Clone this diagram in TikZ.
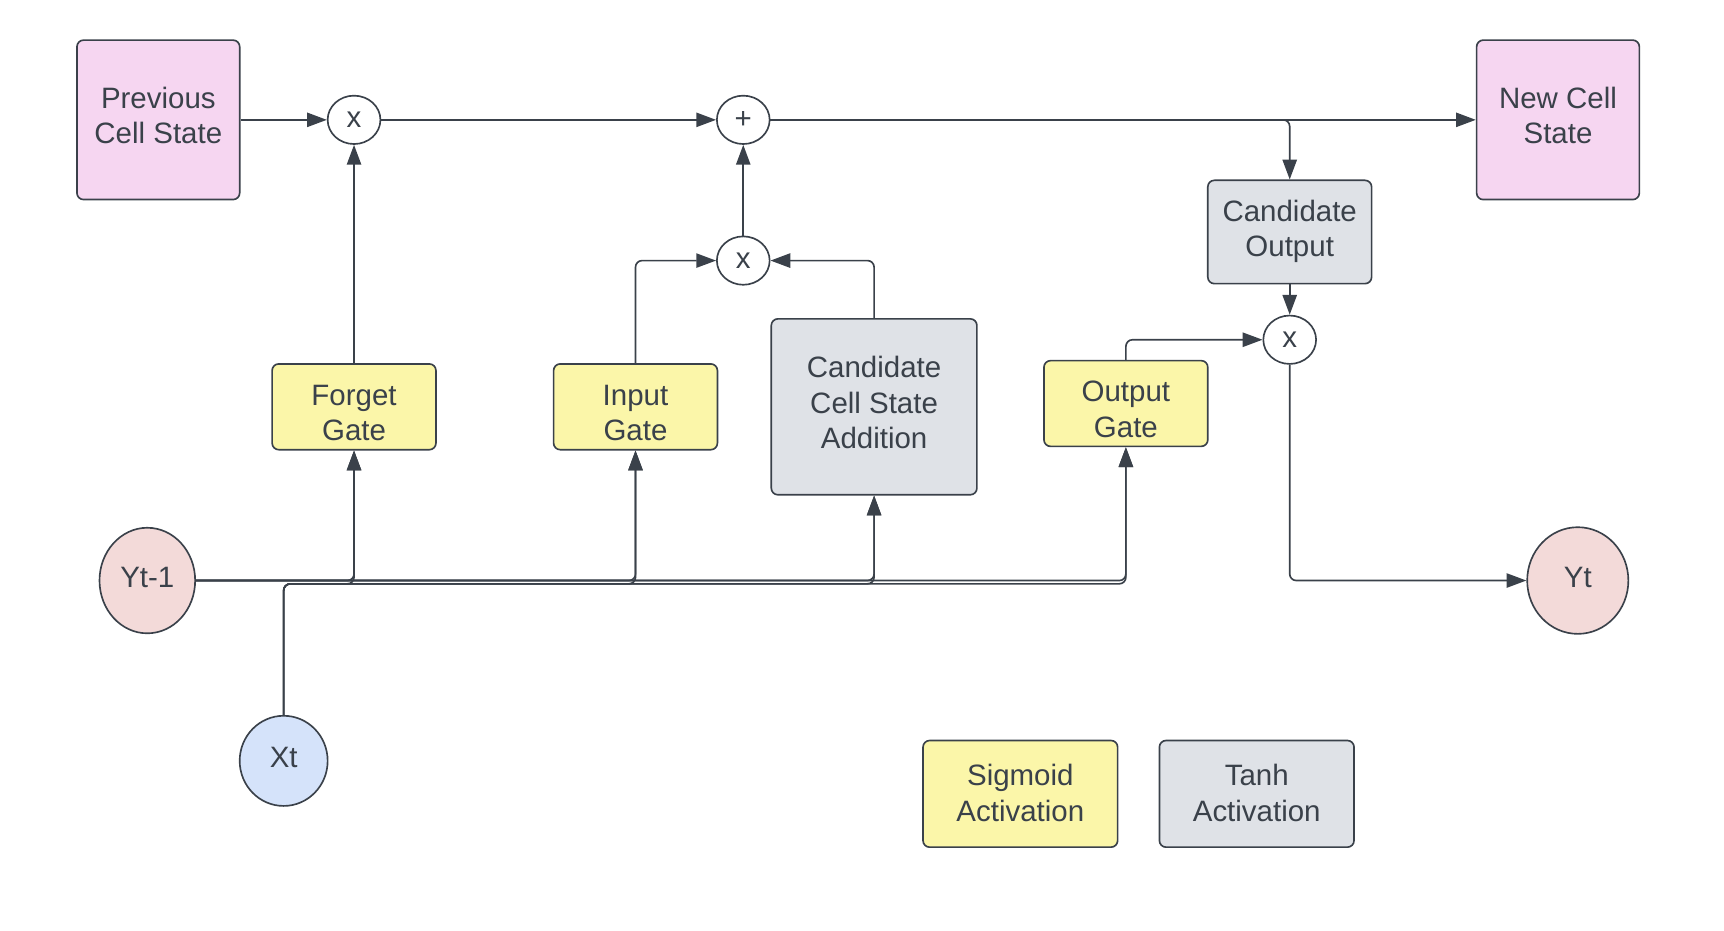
\documentclass[tikz,border=0pt]{standalone}
\usepackage{tikz}
\usepackage{xcolor}
\usepackage{fontspec}
\setmainfont{Liberation Sans}
\usetikzlibrary{arrows.meta,shapes.geometric}
\definecolor{lline}{HTML}{3A414A}
\definecolor{lpink}{HTML}{F6D6F1}
\definecolor{lyellow}{HTML}{FBF6A9}
\definecolor{lgrey}{HTML}{DFE2E7}
\definecolor{lrose}{HTML}{F3DAD9}
\definecolor{lblue}{HTML}{D5E3FA}

\begin{document}
\begin{tikzpicture}[x=0.5pt,y=-0.5pt,line width=0.75pt,every node/.style={align=center,text=lline,font=\fontsize{13.4}{16}\selectfont},box/.style={draw=lline,rounded corners=3pt,inner sep=0pt,text depth=4pt},gate/.style={box,fill=lyellow,minimum width=74.5pt,minimum height=39pt,text depth=0pt,text height=30.5pt},legendbox/.style={box,minimum width=88.5pt,minimum height=48.5pt,text depth=1pt},term/.style={draw=lline,ellipse,inner sep=0pt,text depth=3pt},op/.style={draw=lline,ellipse,fill=white,minimum width=24pt,minimum height=22pt,inner sep=0pt},arr/.style={draw=lline,-{Triangle[length=9pt,width=6.5pt]},rounded corners=3pt}]

\useasboundingbox (0,0) rectangle (1568,846);

% cell state
\node[box,fill=lpink,minimum width=74pt,minimum height=72.5pt] (prev) at (144,109) {Previous\\Cell State};
\node[op] (mul1) at (322,109) {x};
\node[op] (add) at (676,109) {+};
\node[box,fill=lpink,minimum width=74pt,minimum height=72.5pt] (new) at (1417,109) {New Cell\\State};

% gates
\node[gate] (forget) at (322,370) {Forget\\Gate};
\node[gate] (input) at (578,370) {Input\\Gate};
\node[op] (mul2) at (676,237) {x};
\node[box,fill=lgrey,minimum width=93.5pt,minimum height=80pt] (ccs) at (795,370) {Candidate\\Cell State\\Addition};
\node[gate] (og) at (1024,367) {Output\\Gate};
\node[box,fill=lgrey,minimum width=74.5pt,minimum height=47pt,text depth=3pt] (co) at (1173,211) {Candidate\\Output};
\node[op] (mul3) at (1173,309) {x};

% inputs and output
\node[term,fill=lrose,minimum width=43.5pt,minimum height=48pt] (yt1) at (134,528) {Yt-1};
\node[term,fill=lblue,minimum width=40pt,minimum height=41pt] (xt) at (258,692) {Xt};
\node[term,fill=lrose,minimum width=46pt,minimum height=48.5pt] (yt) at (1435,528) {Yt};
\coordinate (xbus) at (258,531);

% legend
\node[legendbox,fill=lyellow] (sig) at (928,722) {Sigmoid\\Activation};
\node[legendbox,fill=lgrey] (tanh) at (1143,722) {Tanh\\Activation};

% <- end nodes
\draw[arr] (prev) -- (mul1);
\draw[arr] (mul1) -- (add);
\draw[arr] (add) -- (new);
\draw[arr] (add.east) -| (co.north);
\draw[arr] (co) -- (mul3);
\draw[arr] (og.north) |- (mul3.west);
\draw[arr] (mul3.south) |- (yt.west);
\draw[arr] (forget) -- (mul1);
\draw[arr] (input.north) |- (mul2.west);
\draw[arr] (ccs.north) |- (mul2.east);
\draw[arr] (mul2) -- (add);

%% Yt-1 and Xt into the gates
\draw[arr] (yt1.east) -| (forget.south);
\draw[arr] (yt1.east) -| (input.south);
\draw[arr] (yt1.east) -| (ccs.south);
\draw[arr] (yt1.east) -| (og.south);
\draw[arr] (xt.north) -- (xbus) -| (forget.south);
\draw[arr] (xt.north) -- (xbus) -| (input.south);
\draw[arr] (xt.north) -- (xbus) -| (ccs.south);
\draw[arr] (xt.north) -- (xbus) -| (og.south);
\end{tikzpicture}
\end{document}
